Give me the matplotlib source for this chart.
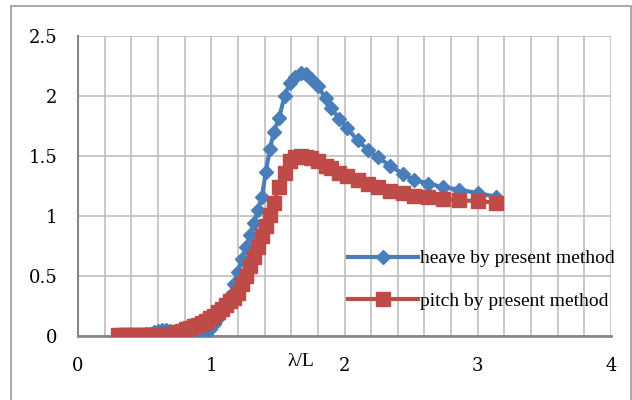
import matplotlib.pyplot as plt
from matplotlib.patches import Rectangle

# wave length ratio (shared by both series)
lam_L = [0.30, 0.33, 0.36, 0.39, 0.42, 0.45, 0.48, 0.51, 0.54, 0.57,
         0.60, 0.63, 0.66, 0.69, 0.72, 0.75, 0.78, 0.81, 0.84, 0.87,
         0.90, 0.93, 0.96, 0.99, 1.02, 1.05, 1.08, 1.11, 1.14, 1.17,
         1.20, 1.23, 1.26, 1.29, 1.32, 1.35, 1.38, 1.41, 1.44, 1.47,
         1.51, 1.55, 1.59, 1.63, 1.675, 1.71, 1.75, 1.80, 1.86, 1.90,
         1.96, 2.02, 2.10, 2.175, 2.25, 2.34, 2.44, 2.52, 2.63, 2.74,
         2.86, 3.00, 3.14]

heave = [0.0, 0.0, 0.0, 0.0, 0.005, 0.01, 0.01, 0.015, 0.02, 0.03,
         0.04, 0.05, 0.05, 0.045, 0.03, 0.01, -0.01, -0.03, -0.04, -0.04,
         -0.03, -0.01, 0.02, 0.06, 0.10, 0.15, 0.20, 0.26, 0.33, 0.43,
         0.53, 0.64, 0.74, 0.84, 0.94, 1.05, 1.16, 1.37, 1.56, 1.70,
         1.82, 2.00, 2.11, 2.16, 2.19, 2.18, 2.14, 2.08, 1.98, 1.90,
         1.81, 1.73, 1.63, 1.55, 1.49, 1.42, 1.35, 1.30, 1.27, 1.24,
         1.22, 1.19, 1.16]

pitch = [0.01, 0.01, 0.01, 0.01, 0.01, 0.01, 0.01, 0.01, 0.01, 0.01,
         0.01, 0.01, 0.01, 0.015, 0.02, 0.03, 0.045, 0.06, 0.07, 0.08,
         0.095, 0.11, 0.125, 0.15, 0.17, 0.20, 0.225, 0.255, 0.29, 0.32,
         0.36, 0.43, 0.50, 0.58, 0.66, 0.74, 0.83, 0.92, 1.01, 1.11,
         1.24, 1.36, 1.46, 1.49, 1.50, 1.495, 1.485, 1.46, 1.42, 1.40,
         1.36, 1.33, 1.30, 1.265, 1.24, 1.21, 1.195, 1.17, 1.155, 1.14,
         1.13, 1.125, 1.11]

blue = "#4A7EBB"
red = "#BE4B48"

fig = plt.figure(figsize=(6.32, 4.0), dpi=100)
ax = fig.add_axes([78 / 632, 1 - 336 / 400, (611 - 78) / 632, (336 - 36) / 400])

# outer chart border
fig.patches.append(Rectangle((11 / 632, -0.02), 620 / 632, 1 - 6 / 400 + 0.02,
                             transform=fig.transFigure, fill=False,
                             edgecolor="#9a9a9a", linewidth=1.2))

ax.plot(lam_L, heave, color=blue, lw=3, marker="D", ms=7,
        label="heave by present method", zorder=3)
ax.plot(lam_L, pitch, color=red, lw=3, marker="s", ms=9.5,
        label="pitch by present method", zorder=4)

ax.set_xlim(0, 4)
ax.set_ylim(0, 2.5)
ax.set_xticks([0, 1, 2, 3, 4])
ax.set_xticks([i * 0.2 for i in range(21)], minor=True)
ax.set_yticks([0, 0.5, 1, 1.5, 2, 2.5])
ax.set_yticklabels(["0", "0.5", "1", "1.5", "2", "2.5"])
ax.grid(True, which="both", axis="x", color="#BFBFBF", lw=1.2)
ax.grid(True, which="major", axis="y", color="#BFBFBF", lw=1.2)
ax.set_axisbelow(True)
ax.tick_params(which="both", length=0)
ax.tick_params(axis="y", pad=15, labelsize=13)
ax.tick_params(axis="x", pad=15, labelsize=13)
for lbl in ax.get_xticklabels() + ax.get_yticklabels():
    lbl.set_fontfamily("DejaVu Serif")

for s in ["top", "right"]:
    ax.spines[s].set_visible(False)
ax.spines["left"].set_color("#868686")
ax.spines["bottom"].set_color("#868686")
ax.spines["left"].set_linewidth(1.5)
ax.spines["bottom"].set_linewidth(2)
ax.spines["left"].set_zorder(2)
ax.spines["bottom"].set_zorder(2)

ax.text(1.67, -0.085, "λ/L", ha="center", va="center", fontsize=14,
        family="Liberation Serif", transform=ax.get_xaxis_transform())

ax.legend(loc="center left", bbox_to_anchor=(348 / 632, 1 - 280 / 400),
          bbox_transform=fig.transFigure, frameon=False, handlelength=3.6,
          handletextpad=0.1, labelspacing=1.3, numpoints=1,
          prop={"family": "Liberation Serif", "size": 14}, borderaxespad=0,
          borderpad=0)

fig.savefig("out.png", dpi=100)
